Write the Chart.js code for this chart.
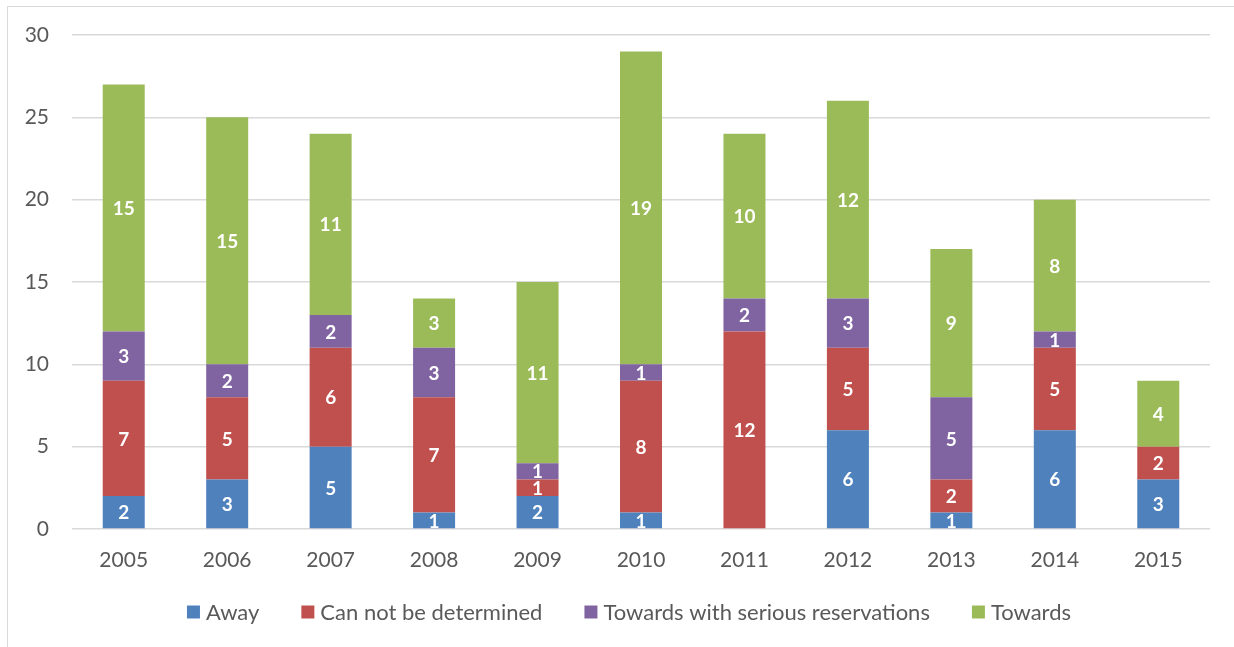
<!DOCTYPE html>
<html>
<head>
<meta charset="utf-8">
<script src="https://cdn.jsdelivr.net/npm/chart.js@4/dist/chart.umd.min.js"></script>
<style>
  html, body { margin: 0; padding: 0; background: #fff; overflow: hidden; }
  #frame {
    position: absolute; left: 7px; top: 6px;
    width: 1240px; height: 660px;
    border: 1px solid #d9d9d9;
  }
  #wrap { position: absolute; left: 0; top: 0; width: 1226px; height: 640px; }
</style>
</head>
<body>
<div id="frame">
  <div id="wrap"><canvas id="chart"></canvas></div>
</div>
<script>
const years = ['2005', '2006', '2007', '2008', '2009', '2010', '2011', '2012', '2013', '2014', '2015'];
const away = [2, 3, 5, 1, 2, 1, 0, 6, 1, 6, 3];
const undetermined = [7, 5, 6, 7, 1, 8, 12, 5, 2, 5, 2];
const towardsReserved = [3, 2, 2, 3, 1, 1, 2, 3, 5, 1, 0];
const towards = [15, 15, 11, 3, 11, 19, 10, 12, 9, 8, 4];
const yTicks = [0, 5, 10, 15, 20, 25, 30];

const fontFamily = 'Lato, "Open Sans", sans-serif';
const textGray = '#595959';

// white value labels in the middle of each segment
const segmentLabels = {
  id: 'segmentLabels',
  afterDatasetsDraw(chart) {
    const ctx = chart.ctx;
    ctx.save();
    ctx.fillStyle = '#ffffff';
    ctx.font = 'bold 19px ' + fontFamily;
    ctx.textAlign = 'center';
    ctx.textBaseline = 'middle';
    chart.data.datasets.forEach((ds, i) => {
      const meta = chart.getDatasetMeta(i);
      meta.data.forEach((bar, j) => {
        const v = ds.data[j];
        if (!v) return;
        ctx.fillText(String(v), bar.x, (bar.y + bar.base) / 2 + 1);
      });
    });
    ctx.restore();
  }
};

// Excel-style legend row: small square, short gap, wide spacing between items
const bottomLegend = {
  id: 'bottomLegend',
  afterDraw(chart) {
    const ctx = chart.ctx;
    const box = 13, gap = 6, spacing = 42;
    const cy = 605;
    ctx.save();
    ctx.font = '22px ' + fontFamily;
    ctx.textBaseline = 'middle';
    const items = chart.data.datasets.map(ds => ({
      text: ds.label, color: ds.backgroundColor, w: ctx.measureText(ds.label).width
    }));
    const total = items.reduce((s, it) => s + box + gap + it.w, 0) + spacing * (items.length - 1);
    let x = 621 - total / 2;
    items.forEach(it => {
      ctx.fillStyle = it.color;
      ctx.fillRect(x, cy - box / 2, box, box);
      ctx.fillStyle = textGray;
      ctx.fillText(it.text, x + box + gap, cy + 1);
      x += box + gap + it.w + spacing;
    });
    ctx.restore();
  }
};

new Chart(document.getElementById('chart'), {
  type: 'bar',
  data: {
    labels: years,
    datasets: [
      { label: 'Away', data: away, backgroundColor: '#4f81bd' },
      { label: 'Can not be determined', data: undetermined, backgroundColor: '#c0504d' },
      { label: 'Towards with serious reservations', data: towardsReserved, backgroundColor: '#8064a2' },
      { label: 'Towards', data: towards, backgroundColor: '#9bbb59' }
    ]
  },
  options: {
    responsive: true,
    maintainAspectRatio: false,
    animation: false,
    datasets: { bar: { barPercentage: 0.406, categoryPercentage: 1 } },
    layout: { padding: { top: 28, right: 24, bottom: 68, left: 0 } },
    plugins: {
      tooltip: { enabled: false },
      legend: { display: false }
    },
    scales: {
      x: {
        stacked: true,
        grid: { display: false },
        border: { display: false },
        ticks: { color: textGray, padding: 11, font: { family: fontFamily, size: 21 } },
        afterFit(scale) { scale.height = 50; }
      },
      y: {
        stacked: true,
        min: 0, max: 30,
        afterBuildTicks(scale) { scale.ticks = yTicks.map(v => ({ value: v })); },
        grid: { color: '#d9d9d9', lineWidth: 1.5, drawTicks: false },
        border: { display: false },
        // small lineHeight keeps the top label from pushing the plot down
        ticks: { color: textGray, padding: 23, font: { family: fontFamily, size: 21, lineHeight: 0.4 } },
        afterFit(scale) { scale.width = 64; }
      }
    }
  },
  plugins: [segmentLabels, bottomLegend]
});
</script>
</body>
</html>
